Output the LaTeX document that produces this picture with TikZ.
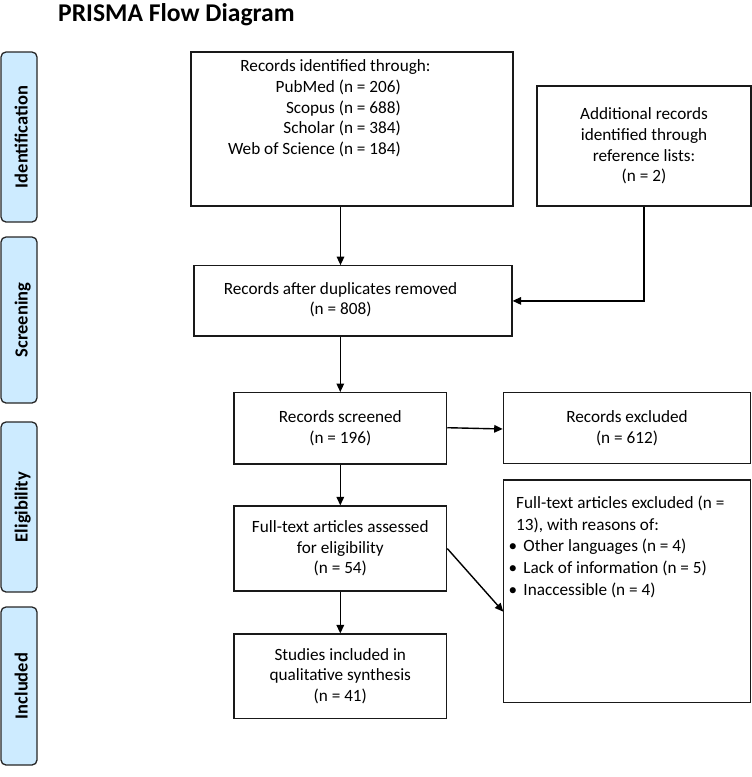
\documentclass[tikz,border=0pt]{standalone}
\usepackage{fontspec}
\setmainfont{Carlito}
\usetikzlibrary{arrows.meta}
\definecolor{sidefill}{RGB}{205,235,255}
\begin{document}
\begin{tikzpicture}[x=1pt,y=-1pt,
  box/.style={draw=black!90, line width=1.2pt, rectangle, inner sep=0pt, align=center, font=\fontsize{17.2}{20.7}\selectfont},
  sidebox/.style={draw=black!85, line width=1.3pt, fill=sidefill, rounded corners=5pt, inner sep=0pt},
  sidelabel/.style={rotate=90, anchor=base, font=\bfseries\fontsize{18.5}{20}\selectfont, inner sep=0pt},
  arr/.style={line width=1.4pt, -{Triangle[length=8.5pt,width=7.5pt]}},
  txt/.style={inner sep=0pt, align=center, font=\fontsize{17.2}{20.7}\selectfont}
]
\useasboundingbox (0,0) rectangle (752,777);
\node[anchor=base west, inner sep=0pt, font=\bfseries\fontsize{25.6}{30}\selectfont] (title) at (58,21) {PRISMA Flow Diagram};

\node[sidebox, minimum width=36pt, minimum height=170pt] (sid) at (19,137) {};
\node[sidelabel] (lid) at (27.5,137) {Identification};
\node[sidebox, minimum width=36pt, minimum height=166pt] (sscr) at (19,320) {};
\node[sidelabel] (lscr) at (27.5,320) {Screening};
\node[sidebox, minimum width=36pt, minimum height=170pt] (selg) at (19,507) {};
\node[sidelabel] (lelg) at (27.5,507) {Eligibility};
\node[sidebox, minimum width=36pt, minimum height=158pt] (sinc) at (19,686) {};
\node[sidelabel] (linc) at (27.5,686) {Included};

\node[box, minimum width=322pt, minimum height=154pt] (box1) at (352,129) {};
\node[txt] (b1l1) at (335.5,66.7) {Records identified through:};
\node[txt, align=right, anchor=east] (b1l2) at (401,118.3) {PubMed (n = 206)\\Scopus (n = 688)\\Scholar (n = 384)\\Web of Science (n = 184)};

\node[box, minimum width=214pt, minimum height=120pt] (box2) at (644,146) {Additional records\\identified through\\reference lists:\\(n = 2)};
\node[box, minimum width=318pt, minimum height=70.3pt] (dup) at (353,300.9) {};
\node[txt] (dupt) at (340.5,299.7) {Records after duplicates removed\\(n = 808)};
\node[box, minimum width=212.7pt, minimum height=71.3pt] (scr) at (340.3,428.3) {Records screened\\(n = 196)};
\node[box, minimum width=247.4pt, minimum height=70.6pt] (excl) at (627,428) {Records excluded\\(n = 612)};
\node[box, minimum width=212.7pt, minimum height=85pt] (ft) at (340.3,548.5) {Full-text articles assessed\\for eligibility\\(n = 54)};
\node[box, minimum width=247.4pt, minimum height=222.7pt] (ftex) at (627,591.3) {};
\node[txt, align=left, anchor=north west, font=\fontsize{17.2}{21.8}\selectfont] (ftextxt) at (516,495.5) {Full-text articles excluded (n =\\13), with reasons of:\\\hspace*{-7.5pt}\makebox[14.8pt][l]{\textbullet}Other languages (n = 4)\\\hspace*{-7.5pt}\makebox[14.8pt][l]{\textbullet}Lack of information (n = 5)\\\hspace*{-7.5pt}\makebox[14.8pt][l]{\textbullet}Inaccessible (n = 4)};
\node[box, minimum width=212.7pt, minimum height=84.3pt] (stud) at (340.3,676.2) {Studies included in\\qualitative synthesis\\(n = 41)};

\coordinate (c1) at (box2.south |- dup.east);
\coordinate (c2) at (503.3,611.7);
\draw[arr] (dupt |- box1.south) -- (dupt |- dup.north);
\draw[arr] (box2.south) -- (c1) -- (dup.east);
\draw[arr] (scr.north |- dup.south) -- (scr.north);
\draw[arr] ([yshift=0.6pt]scr.east) -- ([yshift=-1pt]excl.west);
\draw[arr] (scr.south) -- (ft.north);
\draw[arr] (ft.east) -- (c2);
\draw[arr] (ft.south) -- (stud.north);
\end{tikzpicture}
\end{document}
